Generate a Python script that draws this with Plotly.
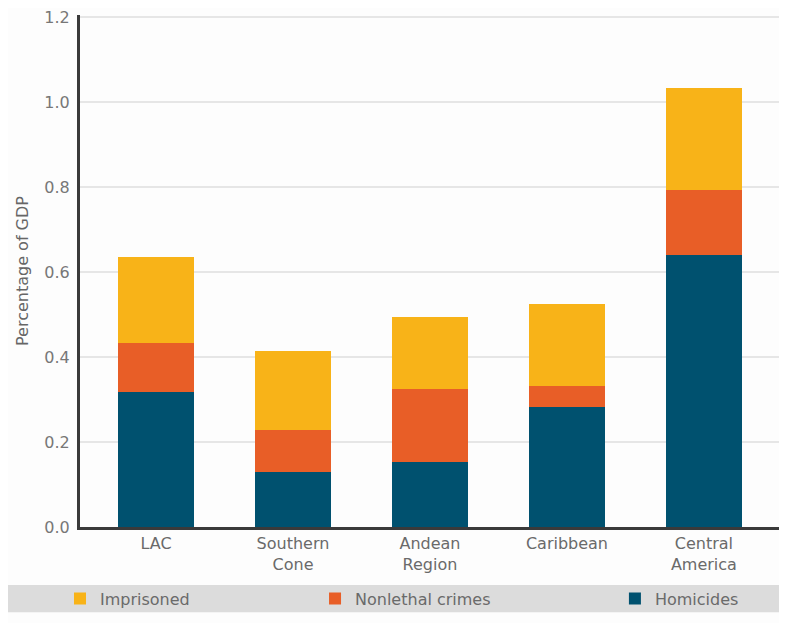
import plotly.graph_objects as go

categories = ["LAC", "Southern<br>Cone", "Andean<br>Region", "Caribbean", "Central<br>America"]
homicides = [0.318, 0.129, 0.153, 0.282, 0.640]
nonlethal = [0.115, 0.099, 0.172, 0.050, 0.153]
imprisoned = [0.202, 0.186, 0.169, 0.193, 0.240]
y_ticks = [0.0, 0.2, 0.4, 0.6, 0.8, 1.0, 1.2]
y_tick_labels = ["0.0", "0.2", "0.4", "0.6", "0.8", "1.0", "1.2"]

TEAL = "#00516F"
ORANGE = "#E85E27"
YELLOW = "#F8B318"
FONT = "DejaVu Sans"

fig = go.Figure()
fig.add_bar(x=categories, y=homicides, name="Homicides", marker_color=TEAL,
            marker_line_width=0, legend="legend3")
fig.add_bar(x=categories, y=nonlethal, name="Nonlethal crimes", marker_color=ORANGE,
            marker_line_width=0, legend="legend2")
fig.add_bar(x=categories, y=imprisoned, name="Imprisoned", marker_color=YELLOW,
            marker_line_width=0, legend="legend4")

leg_common = dict(orientation="h", yanchor="middle", y=-0.140, xanchor="left",
                  bgcolor="rgba(0,0,0,0)", borderwidth=0,
                  font=dict(family=FONT, size=16, color="#6a6a6a"))

# page body adds an 8px offset, so the figure is sized to the visible area
fig.update_layout(
    width=779, height=615,
    barmode="stack", bargap=0.45,
    paper_bgcolor="#fdfdfd", plot_bgcolor="#fdfdfd",
    margin=dict(l=72, r=5, t=7, b=96, autoexpand=False),
    font=dict(family=FONT, color="#666666"),
    showlegend=True,
    legend4=dict(leg_common, x=-0.0285),
    legend2=dict(leg_common, x=0.3348),
    legend3=dict(leg_common, x=0.762),
    xaxis=dict(range=[-0.555, 4.57], showline=True, linecolor="#3a3a3a", linewidth=3,
               tickfont=dict(family=FONT, size=16, color="#6a6a6a"), ticks="",
               showgrid=False, zeroline=False, fixedrange=True, automargin=False),
    yaxis=dict(range=[0, 1.205], tickvals=y_ticks, ticktext=y_tick_labels,
               showline=True, linecolor="#3a3a3a", linewidth=3,
               gridcolor="#e6e6e6", gridwidth=1.5, zeroline=False,
               tickfont=dict(family=FONT, size=16, color="#777777"),
               ticklabelstandoff=4, ticklabeloverflow="allow", automargin=False,
               title=dict(text="Percentage of GDP", font=dict(family=FONT, size=16, color="#666666"),
                          standoff=12)),
    shapes=[dict(type="rect", xref="paper", yref="paper", x0=-0.11, x1=1.0,
                 y0=-0.1663, y1=-0.1134, fillcolor="#dcdcdc", line_width=0, layer="below")],
)

fig.write_html("out.html")
